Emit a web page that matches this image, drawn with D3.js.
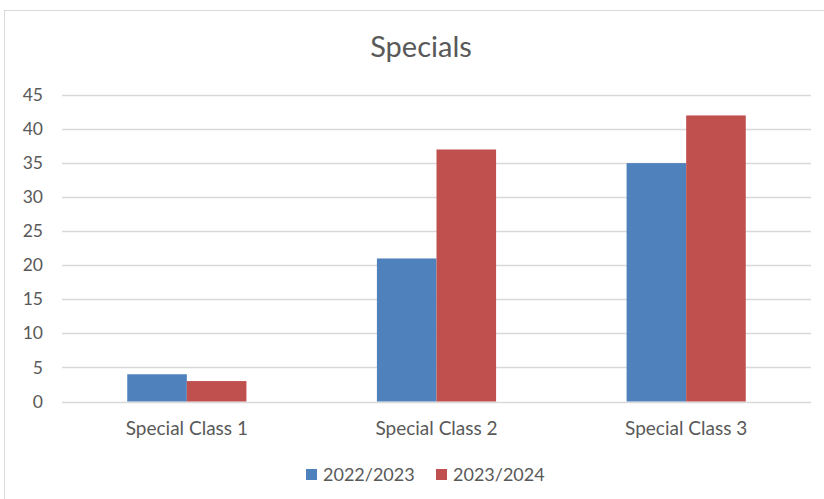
<!DOCTYPE html>
<html>
<head>
<meta charset="utf-8">
<script src="https://cdn.jsdelivr.net/npm/d3@7"></script>
<style>
  body { margin: 0; background: #fff; }
  text { font-family: Lato, "Open Sans", sans-serif; fill: #595959; }
</style>
</head>
<body>
<div id="chart"></div>
<script>
// chart data
const categories = ["Special Class 1", "Special Class 2", "Special Class 3"];
const seriesNames = ["2022/2023", "2023/2024"];
const values2022 = [4, 21, 35];
const values2023 = [3, 37, 42];
const yTicks = [0, 5, 10, 15, 20, 25, 30, 35, 40, 45];
const colors = ["#4f81bd", "#c0504d"];

const width = 824, height = 499;
const plot = {left: 62, right: 811, top: 95, bottom: 401.5};

let svg = d3.select("#chart")
    .append("svg")
    .attr("width", width)
    .attr("height", height);

svg.append("rect")
    .attr("width", width).attr("height", height)
    .attr("fill", "#fff");

// outer chart border
svg.append("rect")
    .attr("x", 4.5).attr("y", 10.5)
    .attr("width", 840).attr("height", 520)
    .attr("fill", "none")
    .attr("stroke", "#d9d9d9");

// title
svg.append("text")
    .attr("x", 421).attr("y", 57)
    .style("text-anchor", "middle")
    .style("font-size", "29px")
    .text("Specials");

let y = d3.scaleLinear()
    .domain([0, 45])
    .range([plot.bottom, plot.top]);

let x0 = d3.scaleBand()
    .domain(categories)
    .range([plot.left, plot.right]);

// bar width from an excel-like gap width
const gapWidth = 2.19;
let barW = x0.bandwidth() / (seriesNames.length + gapWidth);
let groupW = barW * seriesNames.length;
let x1 = d3.scaleBand()
    .domain(seriesNames)
    .range([(x0.bandwidth() - groupW) / 2, (x0.bandwidth() + groupW) / 2]);

// gridlines
svg.append("g")
    .selectAll("line")
    .data(yTicks)
    .enter().append("line")
    .attr("x1", plot.left).attr("x2", plot.right)
    .attr("y1", d => Math.round(y(d)) + 0.5)
    .attr("y2", d => Math.round(y(d)) + 0.5)
    .attr("stroke", "#d9d9d9")
    .attr("stroke-width", 1.5);

// y axis labels
let yAxis = svg.append("g")
    .attr("transform", `translate(${plot.left}, 0)`)
    .call(d3.axisLeft(y).tickValues(yTicks).tickSize(0).tickPadding(19));
yAxis.select(".domain").remove();
yAxis.selectAll("text")
    .style("font-size", "17.5px")
    .style("font-family", "Lato, 'Open Sans', sans-serif")
    .attr("fill", "#595959");

// bars
let data = categories.map((c, i) => ({cat: c, vals: [values2022[i], values2023[i]]}));
let groups = svg.append("g")
    .selectAll("g")
    .data(data)
    .enter().append("g")
    .attr("transform", d => `translate(${x0(d.cat)}, 0)`);

groups.selectAll("rect")
    .data(d => d.vals.map((v, j) => ({name: seriesNames[j], value: v, idx: j})))
    .enter().append("rect")
    .attr("x", d => x1(d.name))
    .attr("y", d => y(d.value))
    .attr("width", x1.bandwidth())
    .attr("height", d => plot.bottom - y(d.value))
    .attr("fill", d => colors[d.idx]);

// category labels
let xAxis = svg.append("g")
    .attr("transform", `translate(0, ${plot.bottom})`)
    .call(d3.axisBottom(x0).tickSize(0).tickPadding(20));
xAxis.select(".domain").remove();
xAxis.selectAll("text")
    .style("font-size", "19px")
    .style("font-family", "Lato, 'Open Sans', sans-serif")
    .attr("fill", "#595959");

// legend
const legendX = [306, 436];
let legend = svg.append("g")
    .selectAll("g")
    .data(seriesNames)
    .enter().append("g")
    .attr("transform", (d, i) => `translate(${legendX[i]}, 469)`);
legend.append("rect")
    .attr("width", 11).attr("height", 11)
    .attr("fill", (d, i) => colors[i]);
legend.append("text")
    .attr("x", 17).attr("y", 11.5)
    .style("font-size", "18px")
    .text(d => d);
</script>
</body>
</html>
